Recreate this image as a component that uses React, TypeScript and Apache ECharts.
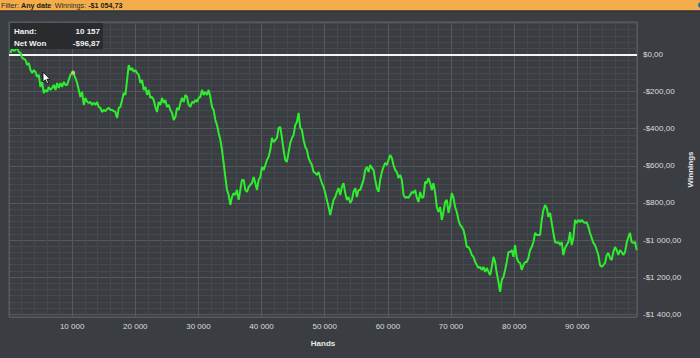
import React, { useEffect, useRef } from 'react';
import * as echarts from 'echarts';

// ---- data ----
const hands = [
  240, 500, 760, 1030, 1290, 1560, 1820,
  2080, 2350, 2610, 2870, 3140, 3400, 3670, 3930, 4190, 4460,
  4720, 4980, 5250, 5510, 5780, 6040, 6300, 6570, 6830, 7090,
  7360, 7620, 7890, 8150, 8410, 8680, 8940, 9200, 9470, 9730,
  10000, 10157, 10520, 10790, 11050, 11310, 11580, 11840, 12100, 12370,
  12630, 12900, 13160, 13420, 13690, 13950, 14210, 14480, 14740, 15010,
  15270, 15530, 15800, 16060, 16320, 16590, 16850, 17120, 17380, 17640,
  17910, 18170, 18430, 18700, 18960, 19230, 19490, 19750, 20020, 20280,
  20540, 20810, 21070, 21340, 21600, 21860, 22130, 22390, 22650, 22920,
  23180, 23440, 23710, 23970, 24240, 24500, 24760, 25030, 25290, 25550,
  25820, 26080, 26350, 26610, 26870, 27140, 27400, 27660, 27930, 28190,
  28460, 28720, 28980, 29250, 29510, 29770, 30040, 30300, 30570, 30830,
  31090, 31360, 31620, 31880, 32150, 32410, 32670, 32940, 33200, 33470,
  33730, 33990, 34260, 34520, 34780, 35050, 35310, 35580, 35840, 36100,
  36370, 36630, 36890, 37160, 37420, 37690, 37950, 38210, 38480, 38740,
  39000, 39270, 39530, 39800, 40060, 40320, 40590, 40850, 41110, 41380,
  41640, 41910, 42170, 42430, 42700, 42960, 43220, 43490, 43750, 44010,
  44280, 44540, 44810, 45070, 45330, 45600, 45860, 46120, 46390, 46650,
  46920, 47180, 47440, 47710, 47970, 48230, 48500, 48760, 49030, 49290,
  49550, 49820, 50080, 50340, 50610, 50870, 51140, 51400, 51660, 51930,
  52190, 52450, 52720, 52980, 53250, 53510, 53770, 54040, 54300, 54560,
  54830, 55090, 55350, 55620, 55880, 56150, 56410, 56670, 56940, 57200,
  57460, 57730, 57990, 58260, 58520, 58780, 59050, 59310, 59570, 59840,
  60100, 60370, 60630, 60890, 61160, 61420, 61680, 61950, 62210, 62480,
  62740, 63000, 63270, 63530, 63790, 64060, 64320, 64590, 64850, 65110,
  65380, 65640, 65900, 66170, 66430, 66690, 66960, 67220, 67490, 67750,
  68010, 68280, 68540, 68800, 69070, 69330, 69600, 69860, 70120, 70390,
  70650, 70910, 71180, 71440, 71710, 71970, 72230, 72500, 72760, 73020,
  73290, 73550, 73820, 74080, 74340, 74610, 74870, 75130, 75400, 75660,
  75930, 76190, 76450, 76720, 76980, 77240, 77510, 77770, 78030, 78300,
  78560, 78830, 79090, 79350, 79620, 79880, 80140, 80410, 80670, 80940,
  81200, 81460, 81730, 81990, 82250, 82520, 82780, 83050, 83310, 83570,
  83840, 84100, 84360, 84630, 84890, 85160, 85420, 85680, 85950, 86210,
  86470, 86740, 87000, 87270, 87530, 87790, 88060, 88320, 88580, 88850,
  89110, 89370, 89640, 89900, 90170, 90430, 90690, 90960, 91220, 91480,
  91750, 92010, 92280, 92540, 92800, 93070, 93330, 93590, 93860, 94120,
  94390, 94650, 94910, 95180, 95440, 95700, 95970, 96230, 96500, 96760,
  97020, 97290, 97550, 97810, 98080, 98340, 98600, 98870, 99130, 99400,
];

const winnings = [
  8, 35, 19, 24, 40, 13, 8,
  -19, -24, -30, -57, -46, -84, -100, -84, -94, -121,
  -110, -175, -148, -208, -191, -202, -175, -191, -181, -164,
  -191, -154, -181, -154, -175, -148, -164, -164, -137, -110,
  -100, -96.87, -127, -154, -191, -229, -202, -272, -234, -256,
  -261, -256, -272, -261, -272, -256, -283, -288, -310, -299,
  -305, -294, -288, -299, -299, -305, -310, -342, -288, -283,
  -245, -208, -218, -137, -57, -84, -73, -94, -84, -100,
  -110, -154, -137, -191, -175, -218, -191, -234, -229, -245,
  -283, -310, -256, -272, -234, -261, -245, -283, -272, -299,
  -315, -353, -337, -288, -299, -261, -234, -256, -218, -229,
  -272, -283, -256, -261, -245, -256, -234, -229, -191, -218,
  -202, -218, -191, -229, -283, -299, -353, -380, -423, -461,
  -515, -585, -660, -730, -757, -811, -768, -747, -757, -730,
  -784, -730, -676, -676, -730, -741, -714, -703, -693, -660,
  -693, -730, -676, -660, -606, -623, -596, -569, -552, -515,
  -450, -472, -461, -450, -396, -391, -450, -515, -569, -579,
  -526, -477, -450, -434, -380, -364, -315, -396, -407, -461,
  -499, -515, -558, -579, -596, -633, -639, -649, -633, -666,
  -693, -714, -747, -784, -822, -865, -822, -784, -768, -741,
  -720, -757, -714, -693, -747, -784, -768, -800, -784, -741,
  -720, -768, -730, -730, -703, -676, -623, -606, -633, -596,
  -612, -623, -676, -720, -741, -676, -633, -606, -585, -596,
  -569, -542, -558, -596, -623, -633, -666, -649, -676, -757,
  -773, -768, -773, -757, -741, -747, -730, -773, -795, -741,
  -773, -768, -687, -693, -666, -693, -730, -693, -747, -822,
  -849, -822, -892, -849, -795, -784, -854, -811, -747, -773,
  -822, -849, -892, -919, -930, -946, -984, -1038, -1038, -1054,
  -1081, -1091, -1118, -1135, -1151, -1145, -1162, -1145, -1172, -1151,
  -1172, -1189, -1145, -1091, -1118, -1178, -1226, -1280, -1215, -1199,
  -1162, -1118, -1065, -1065, -1054, -1091, -1027, -1097, -1118, -1124,
  -1162, -1135, -1118, -1118, -1097, -1054, -1038, -1011, -962, -973,
  -973, -973, -892, -838, -811, -827, -876, -854, -908, -962,
  -1011, -1016, -1011, -1027, -1011, -1081, -1043, -1027, -1011, -957,
  -1027, -989, -892, -908, -892, -903, -892, -903, -908, -903,
  -930, -962, -989, -1016, -1027, -1054, -1081, -1135, -1145, -1135,
  -1124, -1081, -1070, -1097, -1108, -1065, -1038, -1054, -1081, -1054,
  -1065, -1081, -1065, -1016, -984, -962, -1011, -1016, -1011, -1054.73,
];

const hoverHand = 10157;
const hoverWon = -96.87;
const totalWinnings = -1054.73;
const filterLabel = 'Any date';

const FONT = '"Liberation Sans", Arial, sans-serif';
const BG = '#3a3d41';
const MAJOR = '#55585c';
const MINOR = '#45484c';
const LABEL = '#dcdcdc';

function group3(n: number): string {
  return String(n).replace(/\B(?=(\d{3})+(?!\d))/g, ' ');
}
function money(v: number): string {
  const neg = v < 0;
  const a = Math.abs(v);
  const whole = Math.floor(a + 1e-9);
  const cents = Math.round((a - whole) * 100);
  return (neg ? '-' : '') + '$' + group3(whole) + ',' + String(cents).padStart(2, '0');
}

export default function App() {
  const ref = useRef<HTMLDivElement>(null);
  useEffect(() => {
    if (!ref.current) return;
    const chart = echarts.init(ref.current, null, { renderer: 'svg' });
    const lineData = hands.map((h, i) => [h, winnings[i]]);
    const tipText = (text: string, x: number, y: number, right: boolean) => ({
      type: 'text', z: 21, silent: true,
      style: {
        text, x, y, fill: '#f2f2f2', font: 'bold 8px ' + FONT,
        textAlign: right ? 'right' : 'left', align: right ? 'right' : 'left',
        textVerticalAlign: 'middle', verticalAlign: 'middle',
      },
    });
    chart.setOption({
      animation: false,
      backgroundColor: BG,
      grid: {
        left: 9, top: 22, width: 628, height: 295,
        show: true, borderColor: '#5c5f63', borderWidth: 1, backgroundColor: 'transparent',
        containLabel: false, outerBoundsMode: 'none',
      },
      xAxis: {
        type: 'value', min: 0, max: 99450, interval: 10000,
        axisLine: { show: false },
        axisTick: { show: true, length: 3, lineStyle: { color: MAJOR } },
        minorTick: { show: true, splitNumber: 5, length: 2, lineStyle: { color: MAJOR } },
        axisLabel: {
          color: LABEL, fontSize: 8, fontFamily: FONT, margin: 5,
          showMinLabel: false, showMaxLabel: false,
          formatter: (v: number) => group3(v),
        },
        splitLine: { show: true, lineStyle: { color: MAJOR, width: 1 } },
        minorSplitLine: { show: true, lineStyle: { color: MINOR, width: 1 } },
        name: 'Hands', nameLocation: 'middle', nameGap: 22,
        nameTextStyle: { color: '#e8e8e8', fontSize: 8, fontWeight: 'bold', fontFamily: FONT },
      },
      yAxis: {
        type: 'value', position: 'right', min: -1415, max: 175,
        splitNumber: 8, minInterval: 200, maxInterval: 200,
        axisLine: { show: false },
        axisTick: { show: true, length: 3, lineStyle: { color: MAJOR } },
        minorTick: { show: true, splitNumber: 6, length: 2, lineStyle: { color: MAJOR } },
        axisLabel: {
          color: LABEL, fontSize: 8, fontFamily: FONT, margin: 6,
          showMinLabel: false, showMaxLabel: false,
          formatter: (v: number) => money(v),
        },
        splitLine: { show: true, lineStyle: { color: MAJOR, width: 1 } },
        minorSplitLine: { show: true, lineStyle: { color: MINOR, width: 1 } },
        name: 'Winnings', nameLocation: 'middle', nameRotate: 90, nameGap: 49,
        nameMoveOverlap: false,
        nameTextStyle: { color: '#e8e8e8', fontSize: 8, fontWeight: 'bold', fontFamily: FONT },
      },
      series: [
        {
          type: 'line',
          data: lineData,
          showSymbol: false,
          lineStyle: { color: '#30ec30', width: 2 },
          itemStyle: { color: '#30ec30' },
          silent: true,
          z: 3,
          markLine: {
            silent: true,
            symbol: ['none', 'none'],
            label: { show: false },
            lineStyle: { color: '#f4f4f4', width: 2, type: 'solid' },
            data: [{ yAxis: 0 }],
            z: 2,
          },
        },
        {
          type: 'scatter',
          data: [[hoverHand, hoverWon]],
          symbolSize: 4,
          itemStyle: { color: '#f6c98c' },
          silent: true,
          z: 4,
        },
      ],
      graphic: [
        { type: 'rect', shape: { x: 0, y: 0, width: 700, height: 10.5 }, style: { fill: '#f3ae4b' }, z: 10 },
        { type: 'rect', shape: { x: 0, y: 10.5, width: 700, height: 1 }, style: { fill: '#2a2c2f' }, z: 10 },
        { type: 'circle', shape: { cx: 701, cy: 5, r: 3 }, style: { fill: '#1f6fbf' }, z: 11 },
        {
          type: 'text', x: 1, y: 5.5, z: 11,
          style: {
            text: '{n|Filter: }{b|' + filterLabel + '} {n|Winnings: }{b|' + money(totalWinnings) + '}',
            verticalAlign: 'middle', textVerticalAlign: 'middle',
            rich: {
              n: { fontSize: 7.2, fontFamily: FONT, fill: '#2a2a2a', color: '#2a2a2a' },
              b: { fontSize: 7.2, fontFamily: FONT, fontWeight: 'bold', fill: '#1a1a1a', color: '#1a1a1a' },
            },
          },
        },
        { type: 'rect', z: 20, silent: true, shape: { x: 10, y: 23, width: 93, height: 26 }, style: { fill: 'rgba(40,42,46,0.92)' } },
        tipText('Hand:', 14, 31.5, false),
        tipText(group3(hoverHand), 100, 31.5, true),
        tipText('Net Won', 14, 43.5, false),
        tipText(money(hoverWon), 100, 43.5, true),
        {
          type: 'polygon', z: 30, silent: true,
          shape: { points: [[43, 72], [43, 82], [45.3, 79.8], [47, 83.5], [48.6, 82.8], [46.9, 79.3], [50, 79.3]] },
          style: { fill: '#ffffff', stroke: '#000000', lineWidth: 0.8 },
        },
      ],
    });
    return () => chart.dispose();
  }, []);
  return <div ref={ref} style={{ position: 'absolute', left: 0, top: 0, width: 700, height: 358 }} />;
}
